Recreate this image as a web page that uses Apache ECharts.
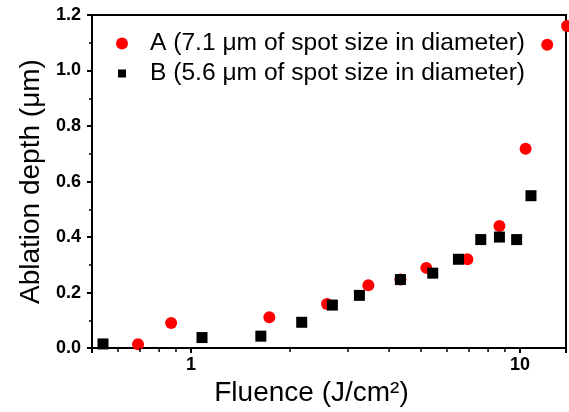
<!DOCTYPE html>
<html>
<head>
<meta charset="utf-8">
<script src="https://cdn.jsdelivr.net/npm/echarts@6/dist/echarts.min.js"></script>
<style>html,body{margin:0;padding:0;background:#fff;}#c{width:569px;height:412px;}</style>
</head>
<body>
<div id="c"></div>
<script>
const seriesNames = ['A (7.1 \u03bcm of spot size in diameter)', 'B (5.6 \u03bcm of spot size in diameter)'];
const aFluence = [0.69, 0.87, 1.73, 2.59, 3.46, 4.33, 5.19, 6.92, 8.66, 10.4, 12.1, 13.9];
const aDepth   = [0.014, 0.09, 0.111, 0.159, 0.226, 0.247, 0.289, 0.32, 0.44, 0.718, 1.093, 1.16];
const bFluence = [0.54, 1.08, 1.63, 2.17, 2.69, 3.25, 4.33, 5.43, 6.50, 7.60, 8.66, 9.77, 10.8];
const bDepth   = [0.015, 0.038, 0.043, 0.093, 0.155, 0.19, 0.247, 0.27, 0.32, 0.391, 0.40, 0.391, 0.549];
const xMajorLabels = [1, 10];
const xMinorTicks = [0.6, 0.7, 0.8, 0.9, 2, 3, 4, 5, 6, 7, 8, 9];

const FONT = "'Liberation Sans', Arial, sans-serif";
const chart = echarts.init(document.getElementById('c'), null, {renderer: 'canvas'});
const zip = (xs, ys) => xs.map((x, i) => [x, ys[i]]);

chart.setOption({
  animation: false,
  backgroundColor: '#fff',
  grid: {left: 92, right: 1, top: 15, bottom: 62, show: true, borderColor: '#000', borderWidth: 2, backgroundColor: 'transparent'},
  legend: {
    orient: 'vertical', left: 116, top: 31, padding: 0, itemGap: 5,
    itemWidth: 46, itemHeight: 12,
    textStyle: {fontFamily: FONT, fontSize: 24.6, color: '#000'},
    data: [
      {name: seriesNames[0], icon: 'circle'},
      {name: seriesNames[1], icon: 'path://M0 0L0.01 0L0 0.01ZM2 2h8v8h-8zM12 12L11.99 12L12 11.99Z'}
    ]
  },
  xAxis: {
    type: 'log', logBase: 10, min: 0.5, max: 13.8,
    name: 'Fluence (J/cm\u00b2)', nameLocation: 'middle', nameGap: 28,
    nameTextStyle: {fontFamily: FONT, fontSize: 28, color: '#000', padding: [0, 35, 0, 0]},
    axisLine: {show: true, lineStyle: {color: '#000', width: 2}},
    axisTick: {show: true, length: 5, inside: false, lineStyle: {color: '#000', width: 2}},
    axisLabel: {
      margin: 8, fontFamily: FONT, fontSize: 18, fontWeight: 'bold', color: '#000',
      formatter: v => {
        for (const m of xMajorLabels) { if (Math.abs(v - m) < 1e-6 * m) return String(m); }
        return '';
      }
    },
    splitLine: {show: false}, minorTick: {show: false}, minorSplitLine: {show: false}
  },
  yAxis: {
    type: 'value', min: 0, max: 1.2, interval: 0.2,
    name: 'Ablation depth (\u03bcm)', nameLocation: 'middle', nameGap: 47, nameRotate: 90,
    nameTextStyle: {fontFamily: FONT, fontSize: 28, color: '#000'},
    axisLine: {show: true, lineStyle: {color: '#000', width: 2}},
    axisTick: {show: true, length: 5, inside: false, lineStyle: {color: '#000', width: 2}},
    minorTick: {show: true, splitNumber: 2, length: 3, lineStyle: {color: '#000', width: 1.5}},
    axisLabel: {margin: 11, fontFamily: FONT, fontSize: 18, fontWeight: 'bold', color: '#000',
      formatter: v => v.toFixed(1)},
    splitLine: {show: false}
  },
  series: [
    {
      name: seriesNames[0], type: 'scatter', symbol: 'circle', symbolSize: 12, clip: false,
      itemStyle: {color: '#ff0000', opacity: 1}, data: zip(aFluence, aDepth), z: 3
    },
    {
      name: seriesNames[1], type: 'scatter', symbol: 'rect', symbolSize: 11, clip: false,
      itemStyle: {color: '#000000', opacity: 1}, data: zip(bFluence, bDepth), z: 4
    },
    {
      name: 'minorTicks', type: 'custom', silent: true, clip: false, z: 5,
      data: xMinorTicks.map(v => [v, 0]),
      encode: {x: 0, y: 1},
      renderItem: (params, api) => {
        const p = api.coord([api.value(0), 0]);
        return {type: 'line', shape: {x1: p[0], y1: p[1], x2: p[0], y2: p[1] + 4}, style: {stroke: '#000', lineWidth: 1.5}};
      }
    }
  ]
});
</script>
</body>
</html>
